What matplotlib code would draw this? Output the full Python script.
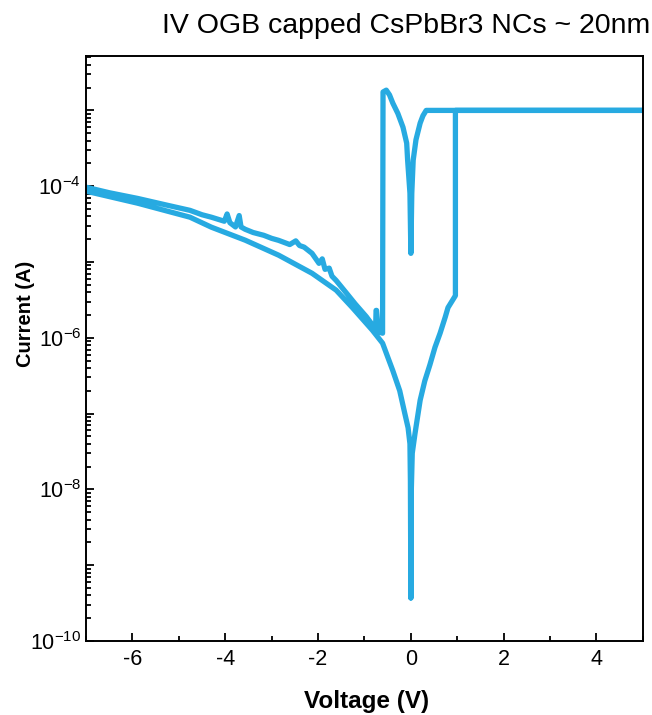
import numpy as np
import matplotlib
matplotlib.use("Agg")
import matplotlib.pyplot as plt
from matplotlib.ticker import LogLocator, FuncFormatter, MultipleLocator, NullFormatter

plt.rcParams['font.family'] = ['Liberation Sans', 'DejaVu Sans']
plt.rcParams['mathtext.fontset'] = 'custom'
plt.rcParams['mathtext.rm'] = 'Liberation Sans'
plt.rcParams['mathtext.it'] = 'Liberation Sans:italic'
plt.rcParams['mathtext.bf'] = 'Liberation Sans:bold'
plt.rcParams['axes.unicode_minus'] = False

# sweep 0 -> +5 V
v_fwd = [0.0, 0.01, 0.03, 0.09, 0.20, 0.30, 0.41, 0.52, 0.63, 0.74, 0.80, 0.88, 0.96, 0.96, 5.0]
i_fwd = [3.7e-10, 1e-8, 3e-8, 5.5e-8, 1.5e-7, 2.7e-7, 4.4e-7, 7.5e-7, 1.15e-6, 1.87e-6, 2.5e-6, 3.0e-6, 3.6e-6, 1e-3, 1e-3]

# sweep +5 -> 0 -> -0.6 V (set state, reset at -0.6 V)
v_back = [5.0, 0.33, 0.26, 0.20, 0.11, 0.05, 0.02, 0.0, -0.02, -0.07, -0.09, -0.17,
          -0.28, -0.39, -0.46, -0.53, -0.60, -0.61]
i_back = [1e-3, 1e-3, 8.5e-4, 6.8e-4, 4.1e-4, 2.2e-4, 8.1e-5, 1.3e-5, 8.1e-5, 2.2e-4, 3.7e-4, 6.0e-4,
          9.1e-4, 1.25e-3, 1.6e-3, 1.85e-3, 1.75e-3, 1.15e-6]

# sweep -0.6 -> -7 V (noisy)
v_neg = [-0.61, -0.70, -0.74, -0.75, -0.76, -0.96, -1.20, -1.39, -1.61, -1.70, -1.76, -1.85,
         -1.91, -1.98, -2.13, -2.30, -2.40, -2.48, -2.61, -2.85, -3.00, -3.17, -3.40, -3.57,
         -3.66, -3.70, -3.78, -3.90, -3.96, -4.02, -4.30, -4.50, -4.76, -5.30, -5.89, -6.50, -7.0]
i_neg = [1.15e-6, 1.2e-6, 2.3e-6, 2.3e-6, 1.3e-6, 1.9e-6, 2.8e-6, 3.9e-6, 5.7e-6, 6.5e-6, 8.3e-6, 8.0e-6,
         1.1e-5, 9.6e-6, 1.3e-5, 1.57e-5, 1.65e-5, 1.9e-5, 1.7e-5, 1.93e-5, 2.05e-5, 2.25e-5, 2.45e-5, 2.7e-5,
         2.9e-5, 4.1e-5, 2.9e-5, 3.3e-5, 4.3e-5, 3.45e-5, 3.9e-5, 4.2e-5, 4.8e-5, 5.7e-5, 6.9e-5, 8.2e-5, 9.7e-5]

# sweep -7 -> 0 V (smooth)
v_ret = [-7.0, -5.89, -4.76, -4.30, -3.57, -2.85, -2.13, -1.61, -1.26, -0.83, -0.61, -0.50, -0.39,
         -0.24, -0.13, -0.06, -0.02, -0.01, 0.0]
i_ret = [8.6e-5, 5.97e-5, 3.9e-5, 2.88e-5, 1.94e-5, 1.23e-5, 7.1e-6, 4.25e-6, 2.5e-6, 1.26e-6, 8.5e-7, 5.6e-7, 3.7e-7,
         2.0e-7, 1.0e-7, 6.5e-8, 4.0e-8, 1.3e-8, 3.7e-10]

volt = v_fwd + v_back + v_neg + v_ret
curr = i_fwd + i_back + i_neg + i_ret

fig = plt.figure(figsize=(6.52, 7.15), dpi=100)
ax = fig.add_axes([0.132, 0.1035, 0.854, 0.818])

ax.plot(volt, curr, color='#27aae1', lw=3.8, solid_joinstyle='round', solid_capstyle='round')
ax.set_yscale('log')
ax.set_xlim(-7, 5)
ax.set_ylim(1e-10, 5.2e-3)

ax.xaxis.set_major_locator(MultipleLocator(2))
ax.xaxis.set_minor_locator(MultipleLocator(1))
ax.xaxis.set_major_formatter(FuncFormatter(lambda x, p: '%d' % round(x)))

ax.yaxis.set_major_locator(LogLocator(base=10, numticks=20))
ax.yaxis.set_minor_locator(LogLocator(base=10, subs=np.arange(2, 10), numticks=20))
ax.yaxis.set_minor_formatter(NullFormatter())

def ylab(y, p):
    e = int(round(np.log10(y)))
    if e % 2:
        return ''
    return r'$10^{%d}$' % e
ax.yaxis.set_major_formatter(FuncFormatter(ylab))

ax.tick_params(which='both', direction='in', top=False, right=False, labelsize=15.5, width=1.3)
ax.tick_params(axis='x', which='major', pad=6)
ax.tick_params(which='major', length=6)
ax.tick_params(which='minor', length=3.5)
for s in ax.spines.values():
    s.set_linewidth(1.4)

ax.set_xlabel('Voltage (V)', fontsize=17.5, fontweight='bold')
ax.xaxis.set_label_coords(0.503, -0.084)
ax.set_ylabel('Current (A)', fontsize=14.5, fontweight='bold')
ax.yaxis.set_label_coords(-0.092, 0.559)

fig.text(0.623, 0.963, 'IV OGB capped CsPbBr3 NCs ~ 20nm', fontsize=20.5, ha='center', va='center')

fig.savefig('out.png', dpi=100)
